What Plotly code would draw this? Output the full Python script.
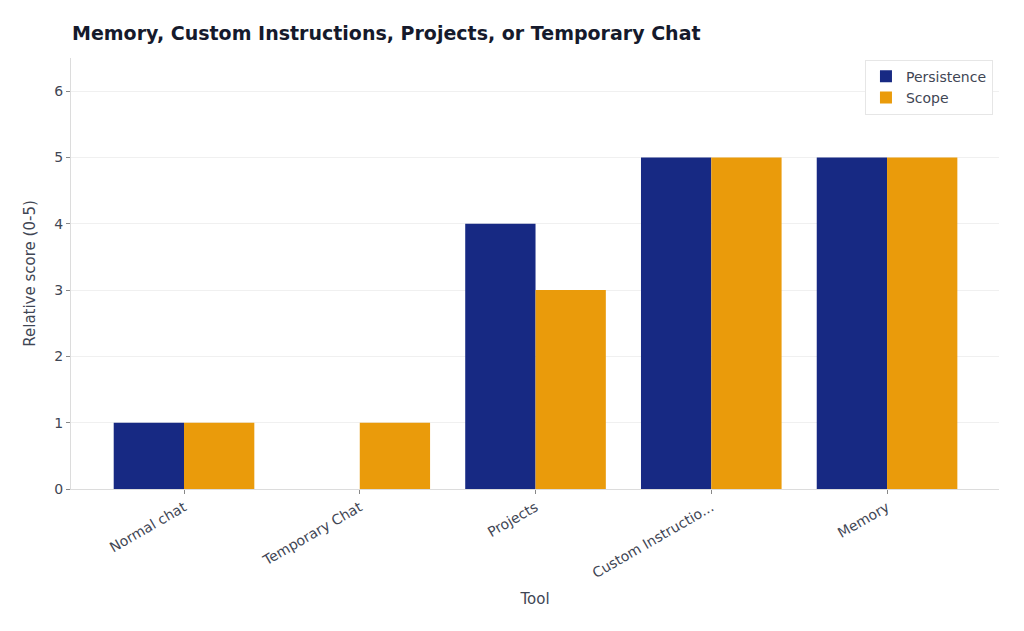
import plotly.graph_objects as go

tools = ["Normal chat", "Temporary Chat", "Projects", "Custom Instructio...", "Memory"]
persistence = [1, 0, 4, 5, 5]
scope = [1, 1, 3, 5, 5]

BLUE = "#172983"
ORANGE = "#ea9b0b"
FONT = "DejaVu Sans"

fig = go.Figure()
fig.add_bar(x=tools, y=persistence, name="Persistence",
            marker=dict(color=BLUE, line=dict(width=0)))
fig.add_bar(x=tools, y=scope, name="Scope",
            marker=dict(color=ORANGE, line=dict(width=0)))

# the page body adds 8px around the figure, so margins are trimmed to match
fig.update_layout(
    width=1024, height=631,
    barmode="group", bargap=0.2, bargroupgap=0,
    plot_bgcolor="white", paper_bgcolor="white",
    font=dict(family=FONT, size=14, color="#3f4654"),
    title=dict(text="<b>Memory, Custom Instructions, Projects, or Temporary Chat</b>",
               x=0.0625, xanchor="left", y=0.960, yanchor="middle",
               font=dict(family=FONT, size=19, color="#151a2c")),
    margin=dict(l=63, r=33, t=50, b=150),
    legend=dict(x=0.9935, y=0.996, xanchor="right", yanchor="top",
                bgcolor="white", bordercolor="#e6e6e6", borderwidth=1,
                font=dict(size=14), tracegroupgap=0),
)
fig.update_xaxes(
    title=dict(text="Tool", font=dict(size=15), standoff=13),
    range=[-0.643, 4.637], tickangle=-30,
    showline=True, linecolor="#dcdcdc", linewidth=1,
    ticks="outside", ticklen=4, tickcolor="#888888",
    showgrid=False,
)
fig.update_yaxes(
    title=dict(text="Relative score (0-5)", font=dict(size=15)),
    range=[0, 6.5], dtick=1,
    showline=True, linecolor="#dcdcdc", linewidth=1,
    ticks="outside", ticklen=4, tickcolor="#888888",
    showgrid=True, gridcolor="#f0f0f0", zeroline=False,
)

fig.write_html("out.html")
